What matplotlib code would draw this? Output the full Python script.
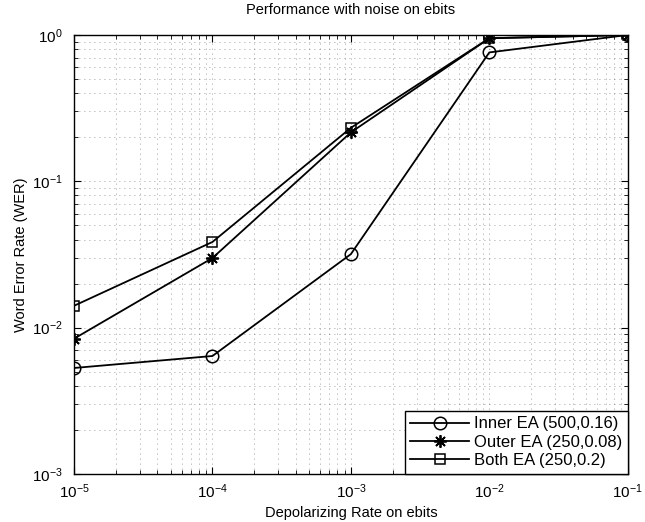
import matplotlib
matplotlib.use("Agg")
import matplotlib.pyplot as plt
import numpy as np

plt.rcParams['font.family'] = ['Liberation Sans', 'DejaVu Sans']

rates = [1e-5, 1e-4, 1e-3, 1e-2, 1e-1]
inner_wer = [0.0053, 0.0064, 0.0318, 0.76, 1.0]
outer_wer = [0.0084, 0.0299, 0.216, 0.95, 1.0]
both_wer = [0.0141, 0.0385, 0.232, 0.95, 1.0]

fig = plt.figure(figsize=(6.45, 5.22), dpi=100)
ax = fig.add_axes([0.1147, 0.092, 0.8586, 0.841])

ax.loglog(rates, inner_wer, '-o', color='k', lw=1.3, ms=9, mfc='none', mew=1.1,
          label='Inner EA (500,0.16)')
ax.loglog(rates, outer_wer, '-', marker=(8, 2, 0), color='k', lw=1.3, ms=9, mew=1.3,
          label='Outer EA (250,0.08)')
ax.loglog(rates, both_wer, '-s', color='k', lw=1.3, ms=7.5, mfc='none', mew=1.1,
          label='Both EA (250,0.2)')

ax.set_xlim(1e-5, 1e-1)
ax.set_ylim(1e-3, 1e0)
ax.grid(True, which='both', linestyle=(0, (1, 5)), color='k', lw=0.6, alpha=0.5)
ax.tick_params(which='both', direction='in', top=True, right=True, labelsize=11)
ax.tick_params(axis='x', which='major', pad=6)
ax.tick_params(axis='y', which='major', pad=8)
ax.tick_params(which='major', length=5)
ax.tick_params(which='minor', length=3)
for s in ax.spines.values():
    s.set_linewidth(1.0)

ax.set_title('Performance with noise on ebits', fontsize=10.5, pad=15)
ax.set_xlabel('Depolarizing Rate on ebits', fontsize=10.5, labelpad=4)
ax.set_ylabel('Word Error Rate (WER)', fontsize=10.5, labelpad=3)

leg = ax.legend(loc='lower right', fontsize=12, fancybox=False, framealpha=1,
                edgecolor='k', borderaxespad=0.0, handlelength=3.5,
                handletextpad=0.3, labelspacing=0.2, borderpad=0.35)
leg.get_frame().set_linewidth(1.0)

fig.savefig('out.png', dpi=100)
